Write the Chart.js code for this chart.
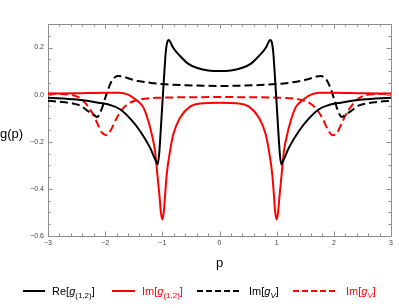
<!DOCTYPE html>
<html>
<head>
<meta charset="utf-8">
<script src="https://cdn.jsdelivr.net/npm/chart.js@4/dist/chart.umd.min.js"></script>
<style>
  html, body { margin: 0; padding: 0; background: #fff; }
  #wrap { position: relative; width: 399px; height: 308px; font-family: "Liberation Sans", Arial, sans-serif; }
  canvas { position: absolute; left: 0; top: 0; }
  .ylab { position: absolute; left: 0px; top: 126px; font-size: 13px; color: #000; line-height: 16px; }
  .leg { position: absolute; top: 283px; height: 16px; font-size: 11px; line-height: 16px; white-space: nowrap; }
  .leg svg { position: absolute; top: 0; }
  .leg i { font-style: italic; }
  .leg sub { font-size: 8px; vertical-align: -3px; line-height: 0; }
</style>
</head>
<body>
<div id="wrap">
  <canvas id="c" width="399" height="308"></canvas>
  <div class="ylab">g(p)</div>
  <div id="legend"></div>
</div>
<script>
// ---- data ----
const reG12X = [-3,-2.5,-2.12,-1.9,-1.74,-1.55,-1.39,-1.215,-1.128,-1.1,-1.08,-1.055,-1.03,-1.0,-0.97,-0.94,-0.91,-0.885,-0.86,-0.81,-0.69,-0.55,-0.4,-0.2,0,
                0.2,0.4,0.55,0.69,0.81,0.86,0.885,0.91,0.94,0.97,1.0,1.03,1.055,1.08,1.1,1.128,1.215,1.39,1.55,1.74,1.9,2.12,2.5,3];
const reG12Y = [-0.013,-0.021,-0.034,-0.045,-0.062,-0.105,-0.154,-0.225,-0.274,-0.288,-0.296,-0.25,-0.16,-0.04,0.075,0.18,0.226,0.232,0.224,0.199,0.164,0.132,0.114,0.103,0.100,
                0.103,0.114,0.132,0.164,0.199,0.224,0.232,0.226,0.18,0.075,-0.04,-0.16,-0.25,-0.296,-0.288,-0.274,-0.225,-0.154,-0.105,-0.062,-0.045,-0.034,-0.021,-0.013];

const imG12X = [-3,-2.5,-2,-1.75,-1.6,-1.507,-1.42,-1.33,-1.245,-1.185,-1.128,-1.087,-1.05,-1.025,-1.0,-0.975,-0.95,-0.923,-0.865,-0.808,-0.69,-0.516,-0.34,0,
                0.34,0.516,0.69,0.808,0.865,0.923,0.95,0.975,1.0,1.025,1.05,1.087,1.128,1.185,1.245,1.33,1.42,1.507,1.6,1.75,2,2.5,3];
const imG12Y = [0.005,0.006,0.008,0.008,0.0,-0.013,-0.03,-0.055,-0.112,-0.168,-0.239,-0.338,-0.43,-0.50,-0.53,-0.50,-0.42,-0.338,-0.239,-0.168,-0.098,-0.051,-0.037,-0.034,
                -0.037,-0.051,-0.098,-0.168,-0.239,-0.338,-0.42,-0.50,-0.53,-0.50,-0.43,-0.338,-0.239,-0.168,-0.112,-0.055,-0.03,-0.013,0.0,0.008,0.008,0.006,0.005];

const imGVX = [-3,-2.8,-2.6,-2.42,-2.3,-2.2,-2.14,-2.06,-2.0,-1.95,-1.88,-1.83,-1.77,-1.7,-1.55,-1.42,-1.2,-1.0,-0.6,0,
               0.6,1.0,1.2,1.42,1.55,1.7,1.77,1.83,1.88,1.95,2.0,2.06,2.14,2.2,2.3,2.42,2.6,2.8,3];
const imGVY = [-0.026,-0.030,-0.036,-0.048,-0.070,-0.085,-0.095,-0.060,-0.015,0.022,0.060,0.074,0.079,0.077,0.066,0.058,0.050,0.045,0.040,0.037,
               0.040,0.045,0.050,0.058,0.066,0.077,0.079,0.074,0.060,0.022,-0.015,-0.060,-0.095,-0.085,-0.070,-0.048,-0.036,-0.030,-0.026];

const reGVX = [-3,-2.7,-2.47,-2.35,-2.24,-2.15,-2.06,-1.98,-1.9,-1.8,-1.7,-1.565,-1.39,-1.04,-0.5,0,
               0.5,1.04,1.39,1.565,1.7,1.8,1.9,1.98,2.06,2.15,2.24,2.35,2.47,2.7,3];
const reGVY = [0.004,0.002,-0.010,-0.035,-0.072,-0.115,-0.160,-0.172,-0.150,-0.100,-0.062,-0.034,-0.020,-0.013,-0.011,-0.010,
               -0.011,-0.013,-0.020,-0.034,-0.062,-0.100,-0.150,-0.172,-0.160,-0.115,-0.072,-0.035,-0.010,0.002,0.004];

const xTicks = [-3,-2,-1,0,1,2,3];
const yTicks = [-0.6,-0.4,-0.2,0.0,0.2];
const xLabel = 'p';

const seriesNames = ['Re[g(1,2)]','Im[g(1,2)]','Im[gV]','Im[gV]'];

function pts(xs, ys) { return xs.map((x, i) => ({x: x, y: ys[i]})); }

const FRAME = '#8c8c8c';

const frameTicks = {
  id: 'frameTicks',
  beforeDatasetsDraw(chart) {
    const {ctx, chartArea: a, scales: {x, y}} = chart;
    ctx.save();
    ctx.strokeStyle = FRAME;
    ctx.lineWidth = 1;
    ctx.beginPath();
    ctx.rect(Math.round(a.left) + 0.5, Math.round(a.top) + 0.5, Math.round(a.right - a.left), Math.round(a.bottom - a.top));
    ctx.stroke();
    ctx.beginPath();
    // x ticks (major 1, minor 0.2), bottom and top, inward
    for (let k = -15; k <= 15; k++) {
      const v = k / 5;
      const px = Math.round(x.getPixelForValue(v)) + 0.5;
      const len = (k % 5 === 0) ? 4.5 : 2.5;
      ctx.moveTo(px, a.bottom); ctx.lineTo(px, a.bottom - len);
      ctx.moveTo(px, a.top); ctx.lineTo(px, a.top + len);
    }
    // y ticks (major 0.2, minor 0.05)
    for (let k = -12; k <= 6; k++) {
      const v = k * 0.05;
      const py = Math.round(y.getPixelForValue(v)) + 0.5;
      const len = (k % 4 === 0) ? 4.5 : 2.5;
      ctx.moveTo(a.left, py); ctx.lineTo(a.left + len, py);
      ctx.moveTo(a.right, py); ctx.lineTo(a.right - len, py);
    }
    ctx.stroke();
    ctx.restore();
  }
};

const common = { showLine: true, pointRadius: 0, borderWidth: 2, cubicInterpolationMode: 'monotone', fill: false };

new Chart(document.getElementById('c'), {
  type: 'scatter',
  data: {
    datasets: [
      Object.assign({ label: seriesNames[0], data: pts(reG12X, reG12Y), borderColor: '#000000' }, common),
      Object.assign({ label: seriesNames[1], data: pts(imG12X, imG12Y), borderColor: '#ff0000' }, common),
      Object.assign({ label: seriesNames[2], data: pts(imGVX, imGVY), borderColor: '#000000', borderDash: [8, 4] }, common),
      Object.assign({ label: seriesNames[3], data: pts(reGVX, reGVY), borderColor: '#ff0000', borderDash: [8, 4] }, common)
    ]
  },
  options: {
    responsive: false,
    animation: false,
    devicePixelRatio: 1,
    layout: { padding: { left: 0, right: 8, top: 24, bottom: 0 } },
    plugins: { legend: { display: false }, tooltip: { enabled: false } },
    scales: {
      x: {
        type: 'linear', min: -3, max: 3,
        afterBuildTicks: s => { s.ticks = xTicks.map(v => ({ value: v })); },
        afterFit: s => { s.height = 72; },
        grid: { display: false, drawTicks: false },
        border: { display: false },
        ticks: {
          padding: 3, color: '#444',
          font: { family: '"Liberation Sans", Arial, sans-serif', size: 7 },
          callback: v => String(v).replace('-', '\u2212'),
          maxRotation: 0
        },
        title: { display: true, text: xLabel, color: '#000',
                 font: { family: '"Liberation Sans", Arial, sans-serif', size: 13 },
                 padding: { top: 0, bottom: 37 } }
      },
      y: {
        type: 'linear', min: -0.6, max: 0.3,
        afterBuildTicks: s => { s.ticks = yTicks.map(v => ({ value: v })); },
        afterFit: s => { s.width = 48; },
        grid: { display: false, drawTicks: false },
        border: { display: false },
        ticks: {
          padding: 4, color: '#444',
          font: { family: '"Liberation Sans", Arial, sans-serif', size: 7 },
          callback: v => Number(v).toFixed(1).replace('-', '\u2212')
        }
      }
    }
  },
  plugins: [frameTicks]
});

// ---- HTML legend (real text with subscripts) ----
const legendItems = [
  { lineX: 23, lineW: 22, dash: null, color: '#000', textX: 52, textColor: '#000', html: 'Re[<i>g</i><sub>(1,2)</sub>]' },
  { lineX: 112, lineW: 23, dash: null, color: '#f00', textX: 142, textColor: '#f00', html: 'Im[<i>g</i><sub>(1,2)</sub>]' },
  { lineX: 197, lineW: 42, dash: '6,3', color: '#000', textX: 249, textColor: '#000', html: 'Im[<i>g</i><sub><i>V</i></sub>]' },
  { lineX: 293, lineW: 42, dash: '6,3', color: '#f00', textX: 346, textColor: '#f00', html: 'Im[<i>g</i><sub><i>V</i></sub>]' }
];
const legendEl = document.getElementById('legend');
legendItems.forEach(it => {
  const line = document.createElement('div');
  line.className = 'leg';
  line.style.left = it.lineX + 'px';
  line.style.width = it.lineW + 'px';
  line.innerHTML = '<svg width="' + it.lineW + '" height="16"><line x1="0" y1="8" x2="' + it.lineW +
    '" y2="8" stroke="' + it.color + '" stroke-width="2"' + (it.dash ? ' stroke-dasharray="' + it.dash + '"' : '') + '/></svg>';
  legendEl.appendChild(line);
  const txt = document.createElement('div');
  txt.className = 'leg';
  txt.style.left = it.textX + 'px';
  txt.style.color = it.textColor;
  txt.innerHTML = it.html;
  legendEl.appendChild(txt);
});
</script>
</body>
</html>
